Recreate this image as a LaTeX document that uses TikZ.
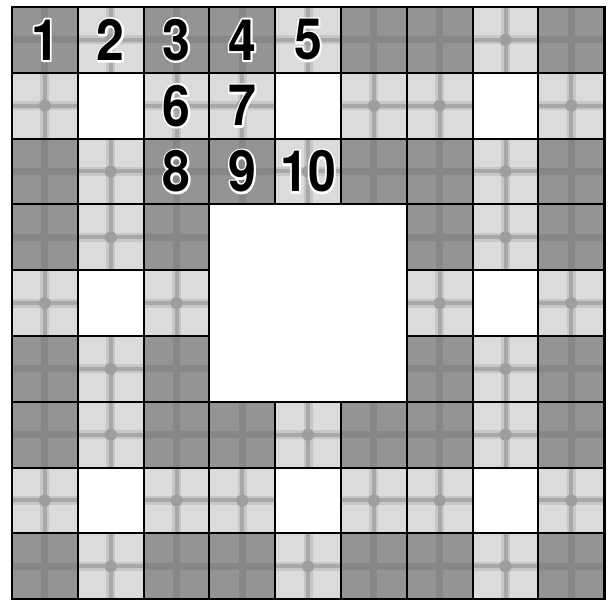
\documentclass[tikz,border=0pt]{standalone}
\usepackage{fontspec}
\usepackage{graphicx}
\newfontfamily\numfont{TeX Gyre Heros}
\newcommand{\halostart}{\special{pdf:literal direct 1 1 1 RG 1 1 1 rg 3.6 w 1 j 2 Tr}}
\newcommand{\haloend}{\special{pdf:literal direct 0 Tr 0 0 0 RG 0 0 0 rg 0.4 w 0 j}}
\newcommand{\halonum}[1]{\rlap{\halostart#1\haloend}#1}
\tikzset{
  darkcell/.style={fill=black!42},
  lightcell/.style={fill=black!14},
  darkband/.style={draw=black!47, line width=7pt},
  lightbandwide/.style={draw=black!22, line width=9pt},
  lightband/.style={draw=black!34, line width=4pt},
  blob/.style={fill=black!38},
  gridline/.style={draw=black, line width=2pt},
  outerline/.style={draw=black, line width=2.6pt},
  numtext/.style={font=\numfont\bfseries\fontsize{50}{50}\selectfont, inner sep=0pt, text=black}
}
\begin{document}
\begin{tikzpicture}[x=1pt,y=1pt]
\useasboundingbox (0,0) rectangle (608,601);
\fill[white] (0,0) rectangle (608,601);
\def\cs{65.8}
% cells
\foreach \r in {0,...,8}{
  \foreach \c in {0,...,8}{
    \pgfmathtruncatemacro\rm{mod(\r,3)}
    \pgfmathtruncatemacro\cm{mod(\c,3)}
    \pgfmathtruncatemacro\rb{floor(\r/3)}
    \pgfmathtruncatemacro\cb{floor(\c/3)}
    \pgfmathtruncatemacro\kind{((\rb==1)&&(\cb==1)) || ((\rm==1)&&(\cm==1)) ? 0 : (((\rm!=1)&&(\cm!=1)) ? 2 : 1)}
    \pgfmathsetmacro\xl{12+\c*\cs}
    \pgfmathsetmacro\yt{594-\r*\cs}
    \pgfmathsetmacro\xm{\xl+0.5*\cs}
    \pgfmathsetmacro\ym{\yt-0.5*\cs}
    \ifcase\kind
    \or
      \fill[lightcell] (\xl,\yt) rectangle ++(\cs,-\cs);
      \draw[lightbandwide] (\xl,\ym) -- ++(\cs,0);
      \draw[lightbandwide] (\xm,\yt) -- ++(0,-\cs);
      \draw[lightband] (\xl,\ym) -- ++(\cs,0);
      \draw[lightband] (\xm,\yt) -- ++(0,-\cs);
      \fill[blob] (\xm,\ym) circle (6);
    \or
      \fill[darkcell] (\xl,\yt) rectangle ++(\cs,-\cs);
      \draw[darkband] (\xl,\ym) -- ++(\cs,0);
      \draw[darkband] (\xm,\yt) -- ++(0,-\cs);
    \fi
  }
}
% grid lines
\foreach \r in {0,...,8}{
  \foreach \c in {0,...,8}{
    \pgfmathtruncatemacro\rb{floor(\r/3)}
    \pgfmathtruncatemacro\cb{floor(\c/3)}
    \pgfmathtruncatemacro\big{((\rb==1)&&(\cb==1)) ? 1 : 0}
    \pgfmathsetmacro\xl{12+\c*\cs}
    \pgfmathsetmacro\yt{594-\r*\cs}
    \ifnum\big=0
      \draw[gridline] (\xl,\yt) rectangle ++(\cs,-\cs);
    \fi
  }
}
\draw[gridline] (12+3*\cs,594-3*\cs) rectangle ++(3*\cs,-3*\cs);
\draw[outerline] (12,594) rectangle ++(9*\cs,-9*\cs);
% numbers
\foreach \n/\r/\c in {1/0/0,2/0/1,3/0/2,4/0/3,5/0/4,6/1/2,7/1/3,8/2/2,9/2/3,10/2/4}{
  \pgfmathsetmacro\xc{12+(\c+0.5)*\cs}
  \pgfmathsetmacro\yc{594-(\r+0.5)*\cs}
  \node[numtext] (num\n) at (\xc,\yc) {\scalebox{1}[1.14]{\halonum{\n}}};
}
\end{tikzpicture}
\end{document}
